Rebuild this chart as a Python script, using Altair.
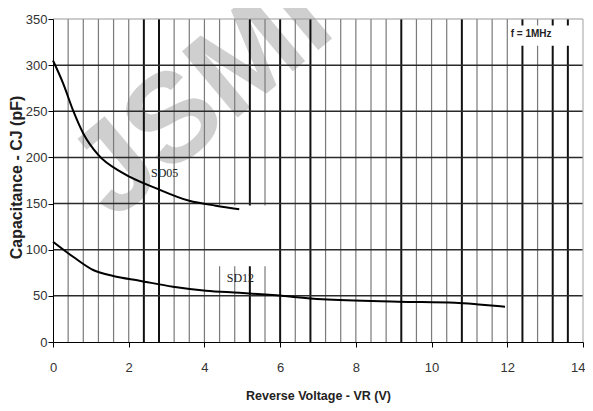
import altair as alt
import pandas as pd

# ---- data ----
sd05_v = [0.0, 0.27, 0.53, 0.8, 1.19, 1.85, 2.73, 3.6, 4.3, 4.92]
sd05_c = [305, 280, 251, 226, 203, 183, 166.5, 153, 147.7, 143.8]

sd12_v = [0.0, 0.53, 1.06, 1.59, 2.29, 3.17, 4.04, 4.92, 5.8, 7.11, 9.13, 10.62, 11.33, 11.94]
sd12_c = [108.7, 92.4, 78, 71.5, 66.4, 59.9, 55.6, 53.4, 50.9, 46.2, 43.7, 42.6, 40.4, 38.3]

x_ticks = [0, 2, 4, 6, 8, 10, 12, 14]
y_ticks = [0, 50, 100, 150, 200, 250, 300, 350]

v_grid_thin = [0.4, 0.8, 1.2, 1.6, 2.0, 3.2, 3.6, 4.0, 4.4, 4.8, 5.6, 6.4, 7.2, 7.6,
               8.0, 8.4, 8.8, 9.6, 10.0, 10.4, 11.2, 11.6, 12.0, 12.8]
v_grid_thick = [2.4, 2.8, 5.2, 6.0, 6.8, 9.2, 10.8, 12.4, 13.2, 13.6]
h_grid = [50, 100, 150, 200, 250, 300]

# label boxes (white backgrounds of the curve/frequency labels)
box_x1 = [4.3, 12.1]
box_x2 = [5.65, 13.9]
box_y1 = [82, 321]
box_y2 = [148, 343]

labels_text = ["SD05", "SD12"]
labels_x = [2.95, 4.95]
labels_y = [183, 69]

freq_text = ["f = 1MHz"]
freq_x = [12.63]
freq_y = [333.5]

wm_text = ["JSMI"]
wm_x = [3.92]
wm_y = [264]

# ---- build tables ----
curves = pd.concat([
    pd.DataFrame({"v": sd05_v, "c": sd05_c, "s": "SD05"}),
    pd.DataFrame({"v": sd12_v, "c": sd12_c, "s": "SD12"}),
])
thin_df = pd.DataFrame({"v": v_grid_thin})
thick_df = pd.DataFrame({"v": v_grid_thick})
h_df = pd.DataFrame({"c": h_grid})
box_df = pd.DataFrame({"x1": box_x1, "x2": box_x2, "y1": box_y1, "y2": box_y2})
lab_df = pd.DataFrame({"t": labels_text, "v": labels_x, "c": labels_y})
freq_df = pd.DataFrame({"t": freq_text, "v": freq_x, "c": freq_y})
wm_df = pd.DataFrame({"t": wm_text, "v": wm_x, "c": wm_y})

SANS = "Liberation Sans, Arial, sans-serif"
SERIF = "Liberation Serif, Times New Roman, serif"

xs = alt.Scale(domain=[0, 14], nice=False, zero=False)
ys = alt.Scale(domain=[0, 350], nice=False, zero=False)

x_axis = alt.Axis(values=x_ticks, grid=False, domainColor="black", tickColor="black",
                  tickSize=5, labelFont=SANS, labelFontSize=13, labelColor="#333",
                  labelPadding=14,
                  labelAlign={"condition": {"test": "datum.value == 14", "value": "right"},
                              "value": "center"},
                  labelOffset={"condition": {"test": "datum.value == 14", "value": 2},
                               "value": 0},
                  title="Reverse Voltage - VR (V)",
                  titleFont=SANS, titleFontSize=12.5, titleFontWeight="bold",
                  titleColor="#222", titleX=265, titleY=53, titleBaseline="middle",
                  titleAlign="center", zindex=1, labelFlush=False)
y_axis = alt.Axis(values=y_ticks, grid=False, domainColor="black", tickColor="black",
                  tickSize=5, labelFont=SANS, labelFontSize=13, labelColor="#333",
                  labelPadding=1, title="Capacitance - CJ (pF)",
                  titleFont=SANS, titleFontSize=16, titleFontWeight="bold",
                  titleColor="#222", titleX=-37, titleY=158, titleAngle=270,
                  titleBaseline="middle", titleAlign="center", zindex=1)

wm = alt.Chart(wm_df).mark_text(
    angle=320, fontSize=126, font=SANS, fontWeight="bold",
    color="#cfcfcf", align="center", baseline="middle"
).encode(x=alt.X("v:Q", scale=xs, axis=x_axis), y=alt.Y("c:Q", scale=ys, axis=y_axis), text="t:N")

thin = alt.Chart(thin_df).mark_rule(color="#7a7a7a", strokeWidth=1.2).encode(
    x=alt.X("v:Q", scale=xs), y=alt.datum(0), y2=alt.datum(350))
thick = alt.Chart(thick_df).mark_rule(color="#111111", strokeWidth=2).encode(
    x=alt.X("v:Q", scale=xs), y=alt.datum(0), y2=alt.datum(350))

boxes = alt.Chart(box_df).mark_rect(color="white").encode(
    x=alt.X("x1:Q", scale=xs), x2="x2:Q", y=alt.Y("y1:Q", scale=ys), y2="y2:Q")

hgrid = alt.Chart(h_df).mark_rule(color="#2a2a2a", strokeWidth=1.5).encode(
    y=alt.Y("c:Q", scale=ys), x=alt.datum(0), x2=alt.datum(14))
top = alt.Chart(pd.DataFrame({"c": [350]})).mark_rule(color="#9a9a9a", strokeWidth=1.2).encode(
    y=alt.Y("c:Q", scale=ys), x=alt.datum(0), x2=alt.datum(14))
right = alt.Chart(pd.DataFrame({"v": [14]})).mark_rule(color="#b0b0b0", strokeWidth=1.2).encode(
    x=alt.X("v:Q", scale=xs), y=alt.datum(0), y2=alt.datum(350))

lines = alt.Chart(curves).mark_line(color="black", strokeWidth=2, interpolate="monotone").encode(
    x=alt.X("v:Q", scale=xs), y=alt.Y("c:Q", scale=ys), detail="s:N")

labs = alt.Chart(lab_df).mark_text(font=SERIF, fontSize=12, color="#222",
                                   align="center", baseline="middle").encode(
    x=alt.X("v:Q", scale=xs), y=alt.Y("c:Q", scale=ys), text="t:N")
freq = alt.Chart(freq_df).mark_text(font=SANS, fontSize=10, fontWeight="bold", color="#222",
                                    align="center", baseline="middle").encode(
    x=alt.X("v:Q", scale=xs), y=alt.Y("c:Q", scale=ys), text="t:N")

chart = alt.layer(wm, thin, thick, boxes, hgrid, top, right, lines, labs, freq).properties(
    width=530, height=323,
    autosize=alt.AutoSizeParams(type="none"),
    padding={"left": 45, "top": 11, "right": 2, "bottom": 61},
    background="white",
).configure_view(stroke=None)

chart.save("out.html", embed_options={"renderer": "svg", "actions": False})
